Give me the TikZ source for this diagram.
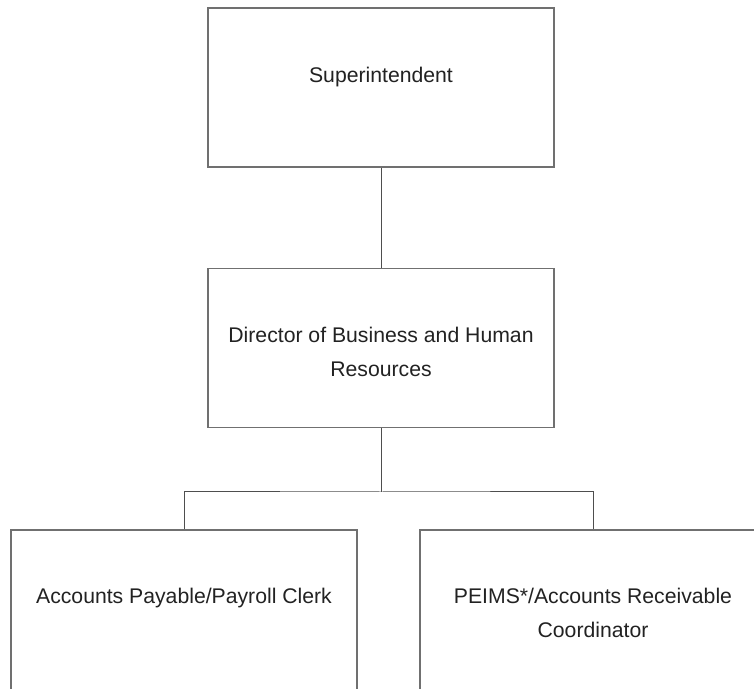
\documentclass[tikz,border=0pt]{standalone}
\usepackage{fontspec}
\setmainfont{Liberation Sans}
\definecolor{boxline}{RGB}{112,112,112}
\definecolor{linkline}{RGB}{78,78,78}
\definecolor{labeltext}{RGB}{34,34,34}
\begin{document}
\begin{tikzpicture}[x=1pt,y=1pt,
  orgbox/.style={draw=boxline, line width=1.3pt, fill=white, rectangle,
    minimum width=346pt, minimum height=159pt, inner sep=0pt},
  lowbox/.style={orgbox, minimum height=170pt},
  link/.style={draw=linkline, line width=1pt},
  lbl/.style={font=\fontsize{21.2}{34}\selectfont, text=labeltext,
    align=center, anchor=base, inner sep=0pt}]
  \useasboundingbox (0,0) rectangle (754,688);
  \clip (0,0) rectangle (754,688);

  % boxes of the chart
  \node[orgbox] (sup)   at (381,600.5) {};
  \node[orgbox] (dir)   at (381,340)   {};
  \node[lowbox] (clerk) at (184,73)    {};
  \node[lowbox] (peims) at (593,73)    {};

  % titles (base anchor sits on the last line)
  \node[lbl] (supT)   at (381,605) {Superintendent};
  \node[lbl] (dirT)   at (381,311) {Director of Business and Human\\Resources};
  \node[lbl] (clerkT) at (184,85)  {Accounts Payable/Payroll Clerk};
  \node[lbl] (peimsT) at (593,51)  {PEIMS*/Accounts Receivable\\Coordinator};

  % reporting lines
  \coordinate (bus) at (381,196);
  \draw[link] (sup.south) -- (dir.north);
  \draw[link] (dir.south) -- (bus);
  \draw[link] (clerk.north) |- (bus) -| (peims.north);
\end{tikzpicture}
\end{document}
